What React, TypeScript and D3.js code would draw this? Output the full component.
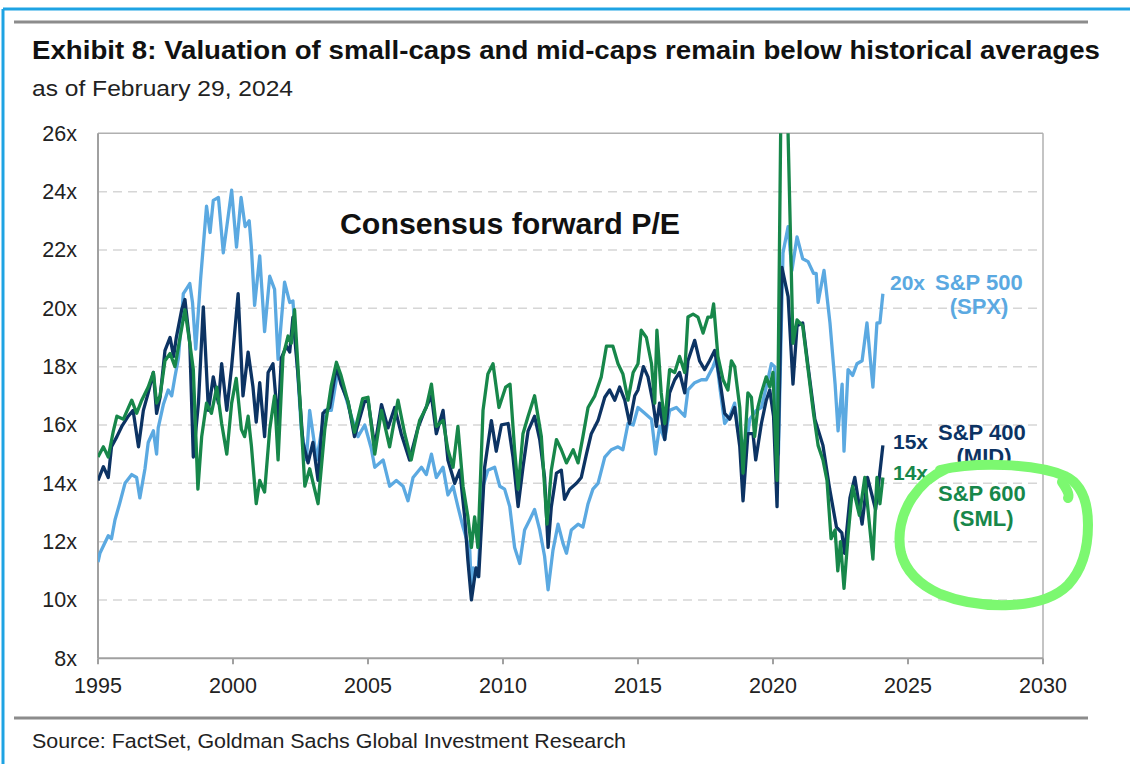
import React from "react";
import * as d3 from "d3";

const yTicks = [8, 10, 12, 14, 16, 18, 20, 22, 24, 26];
const xTicks = [1995, 2000, 2005, 2010, 2015, 2020, 2025, 2030];

// S&P 500 (SPX) consensus forward P/E  [year, value]
const spxData: [number, number][] = [
  [1995.0, 11.3], [1995.07, 11.6], [1995.38, 12.2], [1995.5, 12.1], [1995.63, 12.75], [1995.8, 13.3],
  [1996.0, 14.0], [1996.25, 14.3], [1996.43, 14.2], [1996.55, 13.5], [1996.74, 14.5], [1996.86, 15.4],
  [1997.05, 15.8], [1997.17, 15.0], [1997.23, 15.9], [1997.42, 16.7], [1997.6, 17.2], [1997.73, 17.0],
  [1997.85, 17.65], [1997.98, 18.3], [1998.16, 20.5], [1998.3, 20.7], [1998.4, 20.85], [1998.5, 20.2],
  [1998.62, 18.6], [1998.8, 21.0], [1999.02, 23.5], [1999.15, 22.6], [1999.27, 23.7], [1999.46, 23.8],
  [1999.64, 21.9], [1999.77, 22.8], [1999.95, 24.05], [2000.13, 22.1], [2000.3, 23.8], [2000.45, 22.8],
  [2000.6, 23.0], [2000.68, 22.1], [2000.8, 20.1], [2000.99, 21.8], [2001.17, 19.2], [2001.36, 21.1],
  [2001.54, 20.65], [2001.67, 18.25], [2001.91, 20.9], [2002.1, 20.2], [2002.22, 20.25], [2002.35, 18.5],
  [2002.53, 15.85], [2002.72, 14.8], [2002.84, 16.5], [2003.1, 14.8], [2003.4, 16.5], [2003.64, 16.5],
  [2003.89, 17.9], [2004.07, 17.3], [2004.38, 16.3], [2004.63, 15.6], [2004.88, 16.0], [2005.12, 15.2],
  [2005.25, 14.55], [2005.56, 14.8], [2005.8, 13.9], [2006.05, 14.1], [2006.3, 13.9], [2006.48, 13.4],
  [2006.67, 14.2], [2006.98, 14.55], [2007.16, 14.3], [2007.35, 15.0], [2007.53, 14.2], [2007.78, 14.55],
  [2007.96, 13.6], [2008.15, 13.9], [2008.33, 13.2], [2008.52, 12.5], [2008.77, 11.7], [2008.83, 10.3],
  [2008.89, 11.1], [2009.07, 10.8], [2009.26, 13.9], [2009.44, 14.45], [2009.69, 14.55], [2009.88, 13.9],
  [2010.06, 13.8], [2010.25, 13.2], [2010.43, 11.8], [2010.62, 11.25], [2010.8, 12.4], [2010.99, 12.75],
  [2011.17, 13.1], [2011.36, 12.4], [2011.54, 11.5], [2011.67, 10.35], [2011.85, 11.7], [2012.04, 12.6],
  [2012.22, 11.95], [2012.35, 11.6], [2012.53, 12.4], [2012.78, 12.6], [2012.96, 12.5], [2013.15, 13.3],
  [2013.33, 13.8], [2013.52, 14.0], [2013.77, 14.9], [2014.01, 15.15], [2014.26, 15.25], [2014.44, 15.15],
  [2014.63, 16.05], [2014.82, 16.0], [2015.0, 16.6], [2015.25, 16.4], [2015.5, 16.2], [2015.65, 15.0],
  [2015.8, 15.95], [2015.99, 15.5], [2016.17, 16.5], [2016.42, 16.6], [2016.73, 16.3], [2016.85, 17.2],
  [2017.1, 17.45], [2017.35, 17.55], [2017.53, 17.55], [2017.78, 18.0], [2017.9, 18.3], [2018.03, 17.3],
  [2018.21, 16.05], [2018.4, 16.3], [2018.58, 16.75], [2018.7, 15.8], [2018.89, 15.4], [2018.95, 14.9],
  [2019.14, 16.2], [2019.38, 16.5], [2019.57, 16.6], [2019.75, 17.3], [2019.94, 18.1], [2020.06, 18.0],
  [2020.2, 15.0], [2020.37, 21.9], [2020.56, 22.8], [2020.7, 21.3], [2020.89, 22.45], [2021.1, 21.7],
  [2021.3, 21.6], [2021.5, 21.2], [2021.6, 21.2], [2021.67, 20.2], [2021.89, 21.3], [2022.11, 19.5],
  [2022.3, 17.4], [2022.41, 15.8], [2022.56, 17.4], [2022.63, 15.1], [2022.78, 17.9], [2022.95, 17.7],
  [2023.11, 18.1], [2023.3, 18.2], [2023.48, 19.5], [2023.7, 17.3], [2023.85, 19.5], [2023.96, 19.5],
  [2024.07, 20.5],
];

// S&P 400 (MID)
const midData: [number, number][] = [
  [1995.0, 14.1], [1995.2, 14.57], [1995.38, 14.2], [1995.5, 15.25], [1995.7, 15.6], [1995.88, 15.95],
  [1996.12, 16.3], [1996.3, 16.5], [1996.5, 15.25], [1996.68, 16.5], [1996.86, 17.1], [1997.05, 17.8],
  [1997.17, 16.4], [1997.3, 16.95], [1997.48, 18.55], [1997.67, 19.0], [1997.8, 18.35], [1997.9, 19.0],
  [1998.1, 19.95], [1998.22, 20.3], [1998.4, 18.8], [1998.53, 14.9], [1998.72, 16.75], [1998.9, 20.05],
  [1999.09, 16.5], [1999.27, 17.65], [1999.46, 16.75], [1999.58, 18.1], [1999.77, 16.5], [1999.95, 18.0],
  [2000.19, 20.5], [2000.37, 17.0], [2000.56, 18.5], [2000.74, 17.3], [2000.86, 16.1], [2000.99, 17.45],
  [2001.17, 15.6], [2001.3, 17.8], [2001.48, 18.1], [2001.67, 16.0], [2001.79, 18.3], [2001.98, 18.7],
  [2002.1, 18.5], [2002.22, 19.7], [2002.4, 17.8], [2002.59, 15.4], [2002.78, 14.7], [2002.96, 15.4],
  [2003.15, 14.1], [2003.33, 16.4], [2003.58, 16.6], [2003.83, 18.0], [2004.0, 17.4], [2004.26, 16.8],
  [2004.5, 15.6], [2004.87, 16.8], [2005.0, 16.85], [2005.25, 15.25], [2005.5, 16.7], [2005.74, 15.9],
  [2005.99, 16.6], [2006.23, 15.7], [2006.54, 14.8], [2006.85, 15.9], [2007.1, 16.5], [2007.35, 17.0],
  [2007.53, 15.7], [2007.78, 16.5], [2007.96, 14.8], [2008.21, 14.0], [2008.4, 14.45], [2008.58, 12.85],
  [2008.7, 11.35], [2008.83, 10.0], [2009.0, 11.1], [2009.1, 10.8], [2009.32, 14.55], [2009.57, 16.15],
  [2009.75, 15.1], [2009.94, 16.0], [2010.19, 16.05], [2010.37, 14.9], [2010.56, 13.2], [2010.74, 14.55],
  [2010.93, 15.8], [2011.17, 16.3], [2011.36, 15.5], [2011.54, 14.2], [2011.67, 11.8], [2011.79, 13.2],
  [2011.98, 14.35], [2012.16, 14.45], [2012.28, 13.45], [2012.47, 13.8], [2012.72, 14.0], [2012.9, 14.2],
  [2013.09, 15.0], [2013.27, 15.7], [2013.52, 16.15], [2013.77, 16.95], [2013.95, 17.2], [2014.14, 16.85],
  [2014.32, 17.3], [2014.51, 16.85], [2014.69, 16.05], [2014.88, 17.0], [2015.0, 17.2], [2015.2, 18.0],
  [2015.37, 17.65], [2015.56, 16.75], [2015.68, 15.95], [2015.8, 16.75], [2015.99, 15.5], [2016.17, 17.1],
  [2016.36, 17.55], [2016.54, 17.8], [2016.73, 17.1], [2016.85, 18.2], [2017.1, 18.9], [2017.28, 18.2],
  [2017.47, 17.9], [2017.65, 18.2], [2017.84, 18.55], [2018.03, 17.55], [2018.21, 16.4], [2018.4, 16.2],
  [2018.58, 16.6], [2018.77, 15.25], [2018.89, 13.4], [2019.07, 15.7], [2019.26, 15.7], [2019.36, 14.8],
  [2019.57, 16.05], [2019.75, 16.85], [2019.88, 17.2], [2020.02, 16.3], [2020.15, 13.2], [2020.33, 21.4],
  [2020.56, 20.4], [2020.74, 17.4], [2020.89, 19.4], [2021.1, 19.5], [2021.3, 18.0], [2021.55, 16.2],
  [2021.85, 15.3], [2022.1, 13.8], [2022.35, 12.5], [2022.55, 12.3], [2022.65, 11.6], [2022.85, 13.5],
  [2023.03, 14.2], [2023.3, 12.6], [2023.5, 14.2], [2023.8, 13.1], [2023.95, 14.3], [2024.07, 15.3],
];

// S&P 600 (SML)
const smlData: [number, number][] = [
  [1995.0, 14.9], [1995.2, 15.25], [1995.38, 14.9], [1995.57, 15.8], [1995.7, 16.3], [1995.94, 16.2],
  [1996.25, 16.85], [1996.43, 16.4], [1996.62, 16.85], [1996.86, 17.3], [1997.05, 17.8], [1997.17, 16.75],
  [1997.3, 17.0], [1997.48, 18.2], [1997.67, 18.45], [1997.85, 18.0], [1998.04, 19.0], [1998.22, 19.95],
  [1998.4, 18.8], [1998.53, 17.9], [1998.7, 13.8], [1998.84, 15.6], [1999.02, 16.75], [1999.2, 16.4],
  [1999.4, 17.3], [1999.58, 16.05], [1999.77, 15.0], [1999.95, 16.75], [2000.12, 17.6], [2000.31, 15.85],
  [2000.43, 15.6], [2000.56, 16.3], [2000.68, 15.3], [2000.86, 13.3], [2000.99, 14.1], [2001.17, 13.7],
  [2001.36, 15.85], [2001.54, 17.0], [2001.67, 14.8], [2001.85, 18.35], [2002.04, 19.05], [2002.16, 18.8],
  [2002.28, 19.95], [2002.47, 17.0], [2002.66, 13.9], [2002.84, 14.5], [2003.15, 13.3], [2003.4, 15.85],
  [2003.64, 17.35], [2003.83, 18.15], [2004.0, 17.7], [2004.26, 16.8], [2004.5, 15.75], [2004.8, 16.9],
  [2005.0, 16.95], [2005.25, 15.0], [2005.5, 16.5], [2005.8, 15.25], [2006.11, 16.85], [2006.36, 15.7],
  [2006.6, 14.8], [2006.91, 16.15], [2007.16, 16.6], [2007.35, 17.4], [2007.53, 15.95], [2007.78, 16.15],
  [2007.96, 15.15], [2008.15, 14.55], [2008.33, 15.95], [2008.52, 13.9], [2008.7, 12.85], [2008.83, 11.8],
  [2008.95, 12.85], [2009.07, 11.8], [2009.26, 16.5], [2009.44, 17.75], [2009.63, 18.1], [2009.85, 16.6],
  [2010.1, 17.3], [2010.26, 17.4], [2010.43, 15.15], [2010.56, 13.8], [2010.74, 15.7], [2010.93, 16.3],
  [2011.17, 17.0], [2011.42, 15.6], [2011.63, 12.6], [2011.79, 14.45], [2011.98, 15.5], [2012.16, 15.15],
  [2012.35, 14.7], [2012.6, 15.15], [2012.78, 14.7], [2012.96, 15.6], [2013.15, 16.6], [2013.4, 17.0],
  [2013.64, 17.65], [2013.83, 18.7], [2014.07, 18.7], [2014.26, 18.1], [2014.44, 17.75], [2014.63, 16.85],
  [2014.82, 17.8], [2015.0, 18.1], [2015.12, 19.25], [2015.31, 19.0], [2015.5, 18.1], [2015.62, 16.75],
  [2015.7, 19.25], [2015.86, 17.1], [2015.99, 16.05], [2016.17, 17.9], [2016.36, 17.8], [2016.54, 18.35],
  [2016.73, 17.8], [2016.85, 19.7], [2017.04, 19.8], [2017.22, 19.7], [2017.41, 19.15], [2017.59, 19.7],
  [2017.72, 19.7], [2017.8, 20.15], [2017.96, 18.35], [2018.15, 17.55], [2018.33, 17.2], [2018.46, 18.2],
  [2018.58, 18.0], [2018.77, 16.6], [2018.89, 14.35], [2019.07, 17.1], [2019.2, 16.95], [2019.32, 15.6],
  [2019.44, 16.6], [2019.57, 17.1], [2019.75, 17.65], [2019.88, 17.3], [2020.0, 17.8], [2020.15, 14.1],
  [2020.3, 27.5], [2020.52, 27.5], [2020.74, 18.8], [2020.89, 19.6], [2021.1, 19.4], [2021.5, 16.4],
  [2021.67, 15.3], [2021.85, 14.8], [2022.0, 14.1], [2022.15, 12.1], [2022.3, 12.4], [2022.4, 11.0],
  [2022.5, 12.0], [2022.63, 10.4], [2022.78, 12.2], [2022.95, 13.9], [2023.2, 12.9], [2023.4, 14.2],
  [2023.7, 11.4], [2023.85, 14.2], [2023.96, 13.3], [2024.07, 14.2],
];

const COL_SPX = "#5ba9e1";
const COL_MID = "#0c3363";
const COL_SML = "#17874a";
const FONT = "'Liberation Sans', Arial, Helvetica, sans-serif";

export default function App() {
  const W = 1130, H = 764;
  const left = 98, right = 1043, top = 133.3, bottom = 658.3;
  const x = d3.scaleLinear().domain([1995, 2030]).range([left, right]);
  const y = d3.scaleLinear().domain([8, 26]).range([bottom, top]);
  const line = d3.line<[number, number]>().x((d) => x(d[0])).y((d) => y(d[1]));

  return (
    <svg width={W} height={H} style={{ position: "absolute", left: 0, top: 0, background: "#fff" }} fontFamily={FONT}>
      <defs>
        <clipPath id="plot">
          <rect x={left} y={top} width={right - left} height={bottom - top} />
        </clipPath>
      </defs>
      {/* screenshot frame */}
      <line x1={3} y1={9} x2={W} y2={9} stroke="#1ea3e3" strokeWidth={3} />
      <line x1={3} y1={9} x2={3} y2={H} stroke="#1ea3e3" strokeWidth={3} />
      {/* rules */}
      <line x1={14} y1={22} x2={1088} y2={22} stroke="#8c8c8c" strokeWidth={3} />
      <line x1={14} y1={718} x2={1088} y2={718} stroke="#8c8c8c" strokeWidth={3} />

      <text x={32} y={59} fontSize={26} fontWeight="bold" fill="#111" textLength={1068} lengthAdjust="spacingAndGlyphs">
        Exhibit 8: Valuation of small-caps and mid-caps remain below historical averages
      </text>
      <text x={32} y={96} fontSize={22} fill="#222" textLength={261} lengthAdjust="spacingAndGlyphs">as of February 29, 2024</text>
      <text x={32} y={748} fontSize={20.5} fill="#222" textLength={594} lengthAdjust="spacingAndGlyphs">Source: FactSet, Goldman Sachs Global Investment Research</text>

      {/* gridlines */}
      {yTicks.filter((t) => t > 8 && t < 26).map((t) => (
        <line key={t} x1={left} x2={right} y1={y(t)} y2={y(t)} stroke="#d6d6d6" strokeWidth={1.5} strokeDasharray="9,6" />
      ))}
      {/* frame */}
      <line x1={left} x2={right} y1={top} y2={top} stroke="#b0b0b0" strokeWidth={1.5} />
      <line x1={right} x2={right} y1={top} y2={bottom} stroke="#b0b0b0" strokeWidth={1.5} />
      <line x1={left} x2={left} y1={top} y2={bottom} stroke="#a0a0a0" strokeWidth={2} />
      <line x1={left} x2={right} y1={bottom} y2={bottom} stroke="#a0a0a0" strokeWidth={2} />
      {xTicks.map((t) => (
        <line key={t} x1={x(t)} x2={x(t)} y1={bottom} y2={bottom + 6} stroke="#a0a0a0" strokeWidth={2} />
      ))}

      {yTicks.map((t) => (
        <text key={t} x={77} y={y(t) + 7.5} fontSize={21.5} textAnchor="end" fill="#222">{t}x</text>
      ))}
      {xTicks.map((t) => (
        <text key={t} x={x(t)} y={693} fontSize={21.5} textAnchor="middle" fill="#222">{t}</text>
      ))}

      <text x={340} y={234} fontSize={29} fontWeight="bold" fill="#111" textLength={340} lengthAdjust="spacingAndGlyphs">Consensus forward P/E</text>

      <g clipPath="url(#plot)" fill="none" strokeWidth={3.3} strokeLinejoin="round">
        <path d={line(spxData) || ""} stroke={COL_SPX} />
        <path d={line(midData) || ""} stroke={COL_MID} />
        <path d={line(smlData) || ""} stroke={COL_SML} />
      </g>

      {/* end labels */}
      <text x={890} y={290} fontSize={21} fontWeight="bold" fill={COL_SPX}>20x</text>
      <text x={935} y={290} fontSize={22} fontWeight="bold" fill={COL_SPX}>S&amp;P 500</text>
      <text x={979} y={314} fontSize={22} fontWeight="bold" fill={COL_SPX} textAnchor="middle">(SPX)</text>

      <text x={893} y={449} fontSize={21} fontWeight="bold" fill={COL_MID}>15x</text>
      <text x={938} y={440} fontSize={22} fontWeight="bold" fill={COL_MID}>S&amp;P 400</text>
      <text x={984} y={464} fontSize={22} fontWeight="bold" fill={COL_MID} textAnchor="middle">(MID)</text>

      <text x={893} y={480} fontSize={21} fontWeight="bold" fill={COL_SML}>14x</text>
      <text x={938} y={501} fontSize={22} fontWeight="bold" fill={COL_SML}>S&amp;P 600</text>
      <text x={983} y={526} fontSize={22} fontWeight="bold" fill={COL_SML} textAnchor="middle">(SML)</text>

      {/* hand-drawn highlight */}
      <g fill="none" stroke="#7cf870" strokeWidth={10} strokeLinecap="round" strokeLinejoin="round">
        <path d="M940,470 C975,462 1035,463 1065,476 C1080,483 1088,500 1088,525 C1088,550 1082,570 1068,585 C1055,598 1035,604 1010,605 C985,606 960,602 940,594 C920,585 906,572 901,553 C897,535 901,515 912,498 C920,486 930,476 946,469" />
        <path d="M1062,482 C1066,488 1070,494 1068,498" />
      </g>
    </svg>
  );
}
